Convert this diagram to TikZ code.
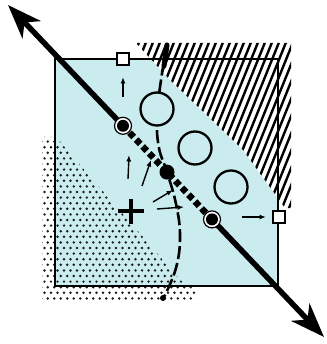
\documentclass[tikz,border=0pt]{standalone}
\usetikzlibrary{arrows.meta}
\definecolor{cyanfill}{RGB}{202,236,238}
\begin{document}
\begin{tikzpicture}[x=1pt,y=-1pt,
  smallarrow/.style={line width=1.4, -{Latex[length=6.5,width=5]}},
  bigline/.style={line width=5.5, -{Stealth[length=34,width=25,inset=10]}},
  openring/.style={line width=2.3, fill=cyanfill},
  marker/.style={line width=1.3, fill=white}]
\useasboundingbox (0,0) rectangle (326,344);
\coordinate (TL) at (55,59);
\coordinate (BR) at (278,286);
\coordinate (A) at (8,5);
\coordinate (B) at (324,337);
\coordinate (P1) at (123,125.8);
\coordinate (P2) at (167,172.1);
\coordinate (P3) at (212,219.4);
% cyan square
\fill[cyanfill] (TL) rectangle (BR);
% hatched region
\fill[white] (136,43) -- (170,80) -- (243,150) -- (285,208) -- (291,208) -- (291,43) -- cycle;
\begin{scope}
  \clip (136,43) -- (170,80) -- (243,150) -- (285,208) -- (291,208) -- (291,43) -- cycle;
  \foreach \b in {20,27,...,330} \draw[line width=2.4] (\b,250) -- ++(89,-220);
\end{scope}
% dotted region
\begin{scope}
  \clip (42,137) -- (56,137) -- (100,188) -- (150,245) -- (180,280) -- (196,290) -- (196,300) -- (42,300) -- cycle;
  \foreach \j in {0,...,30} {
    \foreach \i in {0,...,25} {
      \fill[black!90] ({38+6.5*\i+3.25*mod(\j,2)},{136+5.6*\j}) circle (1.35);
    }
  }
\end{scope}
% square border
\draw[line width=1.5] (TL) rectangle (BR);
% dashed curve
\draw[line width=2.6, dash pattern=on 13 off 4] plot[smooth, tension=0.7] coordinates {(167,46) (161,80) (157,118) (159,148) (167,172) (176,204) (180,236) (176,268) (164,297)};
\draw[line width=5, line cap=round] (167,45) -- (164,66);
\fill (163,298) circle (3);
% open circles
\draw[openring] (157,109) circle (16.5);
\draw[openring] (195,148) circle (16.5);
\draw[openring] (231,187) circle (16.5);
% small arrows
\draw[smallarrow] (123,97) -- (123,77);
\draw[smallarrow] (242,217) -- (266,217);
\draw[smallarrow] (128,179) -- (129,155);
\draw[smallarrow] (142,186) -- (151,160);
\draw[smallarrow] (153,202) -- (173,190);
\draw[smallarrow] (157,209) -- (184,207);
% main line
\draw[line width=6.5, dash pattern=on 6 off 3.5] (P1) -- (P3);
\draw[bigline] (P1) -- (A);
\draw[bigline] (P3) -- (B);
% dots on line
\foreach \p in {P1,P3} {
  \fill[white] (\p) circle (8.5);
  \draw[line width=1.2] (\p) circle (8.5);
  \fill (\p) circle (6);
}
\fill (P2) circle (7.5);
% small squares
\draw[marker] (117,53) rectangle (129,65);
\draw[marker] (273,211) rectangle (285,223);
% plus sign
\draw[line width=4] (118,211) -- (144,211);
\draw[line width=4.5] (131,199) -- (131,224);
\end{tikzpicture}
\end{document}
